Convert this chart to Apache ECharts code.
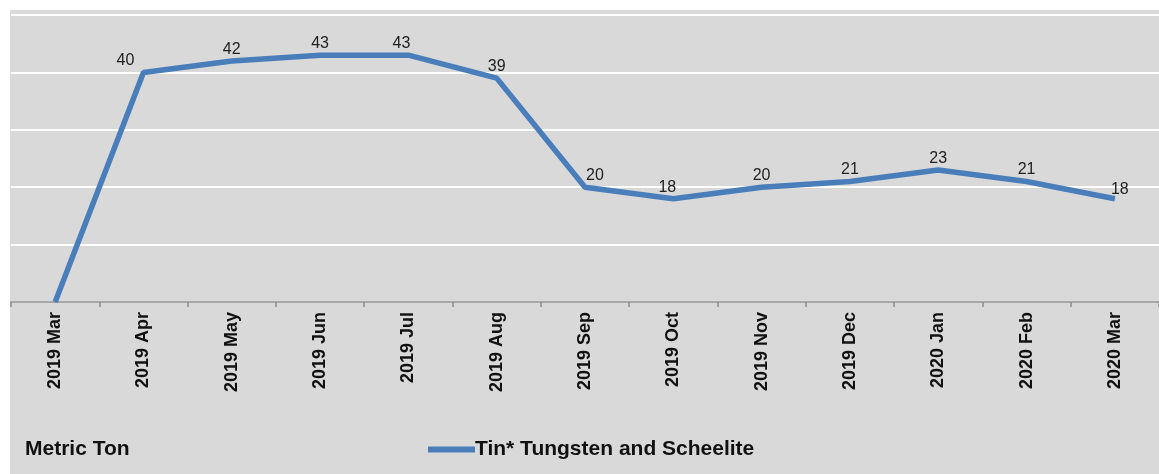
<!DOCTYPE html>
<html>
<head>
<meta charset="utf-8">
<script src="https://cdn.jsdelivr.net/npm/echarts@6/dist/echarts.min.js"></script>
<style>
  html, body { margin: 0; padding: 0; background: #ffffff; }
  #bg { position: absolute; left: 10px; top: 10px; width: 1149px; height: 464px; background: #d9d9d9; }
  #chart { position: absolute; left: 0; top: 0; width: 1159px; height: 474px; }
</style>
</head>
<body>
<div id="bg"></div>
<div id="chart"></div>
<script>
const categories = ['2019 Mar', '2019 Apr', '2019 May', '2019 Jun', '2019 Jul', '2019 Aug',
  '2019 Sep', '2019 Oct', '2019 Nov', '2019 Dec', '2020 Jan', '2020 Feb', '2020 Mar'];
const tinValues = [0, 40, 42, 43, 43, 39, 20, 18, 20, 21, 23, 21, 18];
const seriesName = 'Tin* Tungsten and Scheelite';
const unitLabel = 'Metric Ton';

const labelTweaks = { 0: { show: false }, 1: { offset: [-18, 0] }, 4: { offset: [-7, 0] }, 6: { offset: [10, 0] }, 7: { offset: [-6, 0] }, 12: { offset: [5, 2] } };
const seriesData = tinValues.map((v, i) => labelTweaks[i] ? { value: v, label: labelTweaks[i] } : v);

const chart = echarts.init(document.getElementById('chart'));
chart.setOption({
  backgroundColor: 'transparent',
  animation: false,
  grid: { left: 11, right: 0, top: 15, bottom: 172, containLabel: false },
  xAxis: {
    type: 'category',
    data: categories,
    boundaryGap: true,
    axisLine: { show: true, lineStyle: { color: '#8c8c8c', width: 1.5 } },
    axisTick: { show: true, alignWithLabel: false, length: 5, inside: false, lineStyle: { color: '#8c8c8c', width: 1.5 } },
    axisLabel: {
      rotate: 90, interval: 0, margin: 10,
      fontFamily: 'Liberation Sans, Arial, sans-serif', fontWeight: 'bold', fontSize: 18, color: '#111111'
    }
  },
  yAxis: {
    type: 'value', min: 0, max: 50, interval: 10,
    axisLabel: { show: false },
    axisLine: { show: false },
    axisTick: { show: false },
    splitLine: { show: true, lineStyle: { color: '#ffffff', width: 2 } }
  },
  legend: {
    show: true,
    left: 423, top: 434,
    itemWidth: 47, itemHeight: 6, itemGap: 10,
    icon: 'rect',
    data: [seriesName],
    textStyle: { fontFamily: 'Liberation Sans, Arial, sans-serif', fontWeight: 'bold', fontSize: 21, color: '#111111', padding: [0, 0, 0, -5] }
  },
  graphic: [{
    type: 'text', left: 25, top: 439,
    style: { text: unitLabel, font: 'bold 21px "Liberation Sans", Arial, sans-serif', fill: '#111111' }
  }],
  series: [{
    name: seriesName,
    type: 'line',
    data: seriesData,
    symbol: 'circle',
    symbolSize: 1,
    showSymbol: true,
    smooth: false,
    lineStyle: { color: '#4a7ebb', width: 5.5 },
    itemStyle: { color: '#4a7ebb' },
    label: {
      show: true, position: 'top', distance: 3,
      fontFamily: 'Liberation Sans, Arial, sans-serif', fontSize: 16, color: '#222222'
    }
  }]
});
</script>
</body>
</html>
